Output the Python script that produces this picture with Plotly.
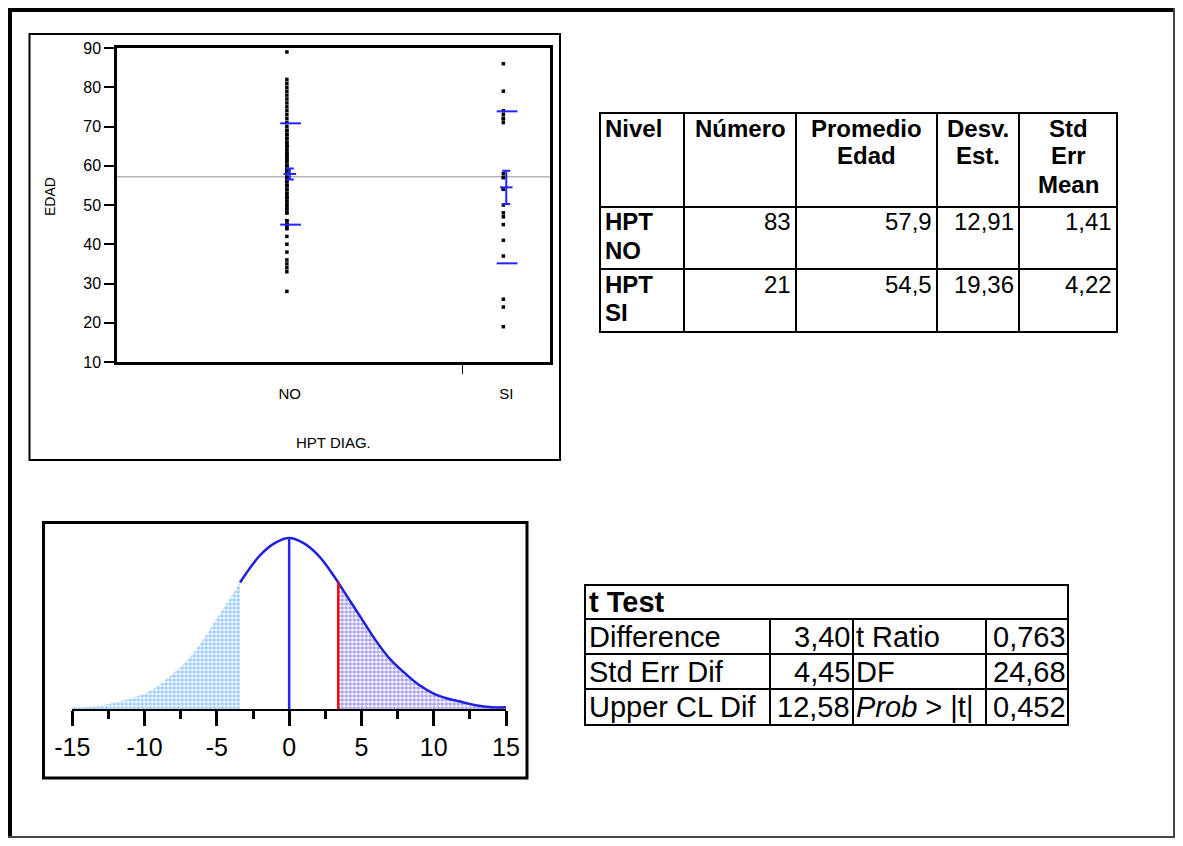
import plotly.graph_objects as go

# The page is drawn with the browser's default 8px body margin,
# so the figure covers the window from (8, 8); keep it inside the window.
WIN_W, WIN_H = 1183, 846
OFF = 8
W, H = WIN_W - 2 * OFF, WIN_H - 2 * OFF

# ---------------- data ----------------
groups = ["NO", "SI"]
counts = [83, 21]
means = [57.9, 54.5]
sds = [12.91, 19.36]
ses = [1.41, 4.22]

edad_no = [89, 82, 81, 80, 79, 78, 77, 76, 75, 74, 73, 72, 71, 70, 69, 69, 68, 68,
           67, 67, 66, 66, 65, 65, 65, 64, 64, 63, 63, 63, 62, 62, 62, 61, 61, 60,
           60, 60, 59, 59, 59, 58, 58, 57, 57, 57, 56, 56, 55, 55, 55, 54, 54, 53,
           53, 52, 52, 52, 51, 51, 50, 50, 49, 49, 48, 48, 46, 46, 45, 45, 45, 45,
           45, 44, 44, 42, 40, 38, 36, 35, 34, 33, 28]
edad_si = [86, 79, 74, 73, 72, 72, 71, 58, 57, 57, 54, 54, 50, 48, 47, 45, 41, 37,
           26, 24, 19]

y_ticks = [10, 20, 30, 40, 50, 60, 70, 80, 90]

# t distribution plot (relative density)
t_x = list(range(-15, 16))
t_y = [0.01, 0.01, 0.02, 0.04, 0.06, 0.09, 0.14, 0.21, 0.29, 0.40, 0.53, 0.66, 0.79,
       0.90, 0.97, 1.00, 0.97, 0.90, 0.79, 0.66, 0.53, 0.40, 0.29, 0.21, 0.14, 0.09,
       0.06, 0.04, 0.02, 0.01, 0.01]
t_ticks = [-15, -10, -5, 0, 5, 10, 15]
t_minor = [-12.5, -7.5, -2.5, 2.5, 7.5, 12.5]
t_diff = 3.40
t_diff_height = 0.74

# summary table
tbl_header = [["Nivel"], ["Número"], ["Promedio", "Edad"], ["Desv.", "Est."],
              ["Std", "Err", "Mean"]]
tbl_levels = [["HPT", "NO"], ["HPT", "SI"]]

# t test table
tt_title = "t Test"
tt_labels1 = ["Difference", "Std Err Dif", "Upper CL Dif"]
tt_values1 = [3.40, 4.45, 12.58]
tt_labels2 = ["t Ratio", "DF", "<i>Prob</i> &gt; |t|"]
tt_values2 = ["0,763", "24,68", "0,452"]


def es(v, d):
    return f"{v:.{d}f}".replace(".", ",")


# ---------------- helpers (window pixels -> paper) ----------------
def px(x):
    return (x - OFF) / W


def py(y):
    return 1 - (y - OFF) / H


FONT = "Liberation Sans, Arial, sans-serif"
BLUE = "#2424ff"

shapes = []
annotations = []


def seg(x0, y0, x1, y1, w=2, color="black"):
    shapes.append(dict(type="line", xref="paper", yref="paper",
                       x0=px(x0), y0=py(y0), x1=px(x1), y1=py(y1),
                       line=dict(color=color, width=w)))


def rect(x0, y0, x1, y1, w=2, color="black"):
    shapes.append(dict(type="rect", xref="paper", yref="paper",
                       x0=px(x0), y0=py(y0), x1=px(x1), y1=py(y1),
                       line=dict(color=color, width=w)))


def txt(x, y, s, anchor="left", size=15, bold=False, angle=0):
    if bold:
        s = "<b>" + s + "</b>"
    annotations.append(dict(xref="paper", yref="paper", x=px(x), y=py(y), text=s,
                            showarrow=False, xanchor=anchor, yanchor="middle",
                            textangle=angle, borderpad=0,
                            font=dict(family=FONT, size=size, color="black")))


fig = go.Figure()

# ---------------- scatter (oneway) ----------------
centers = [counts[0] / 2, counts[0] + counts[1] / 2]
boundary = counts[0]
total = counts[0] + counts[1]
grand_mean = (counts[0] * means[0] + counts[1] * means[1]) / total

fig.add_trace(go.Scatter(x=[0, total], y=[grand_mean, grand_mean], mode="lines",
                         line=dict(color="#b4b4b4", width=1.5),
                         xaxis="x", yaxis="y", hoverinfo="skip"))
for c, vals in zip(centers, [edad_no, edad_si]):
    fig.add_trace(go.Scatter(x=[c - 0.7] * len(vals), y=vals, mode="markers",
                             marker=dict(symbol="square", size=3.5, color="black"),
                             xaxis="x", yaxis="y", hoverinfo="skip"))
for c, m, s, e in zip(centers, means, sds, ses):
    fig.add_trace(go.Scatter(x=[c - 2.3, c + 2.7, None, c - 2.3, c + 2.7],
                             y=[m + s, m + s, None, m - s, m - s], mode="lines",
                             line=dict(color=BLUE, width=2),
                             xaxis="x", yaxis="y", hoverinfo="skip"))
    fig.add_trace(go.Scatter(x=[c], y=[m], mode="markers",
                             marker=dict(symbol="line-ew-open", size=9, color=BLUE,
                                         line=dict(color=BLUE, width=2)),
                             error_y=dict(type="data", array=[e], width=4,
                                          thickness=2, color=BLUE),
                             xaxis="x", yaxis="y", hoverinfo="skip"))

# ---------------- t distribution ----------------
left_x = [x for x in t_x if x <= -t_diff] + [-t_diff]
left_y = [y for x, y in zip(t_x, t_y) if x <= -t_diff] + [t_diff_height]
right_x = [t_diff] + [x for x in t_x if x >= t_diff]
right_y = [t_diff_height] + [y for x, y in zip(t_x, t_y) if x >= t_diff]
curve_x = [-t_diff] + [x for x in t_x if x > -t_diff]
curve_y = [t_diff_height] + [y for x, y in zip(t_x, t_y) if x > -t_diff]

fig.add_trace(go.Scatter(x=left_x, y=left_y, mode="lines", fill="tozeroy",
                         line=dict(width=0, shape="spline", color="#5aaaf0"),
                         fillcolor="rgba(0,0,0,0)",
                         fillpattern=dict(shape=".", size=4, solidity=0.6,
                                          fgcolor="#3a98f0", bgcolor="white"),
                         xaxis="x2", yaxis="y2", hoverinfo="skip"))
fig.add_trace(go.Scatter(x=right_x, y=right_y, mode="lines", fill="tozeroy",
                         line=dict(width=0, shape="spline", color="#6060d0"),
                         fillcolor="rgba(0,0,0,0)",
                         fillpattern=dict(shape=".", size=4, solidity=0.6,
                                          fgcolor="#4f40cc", bgcolor="white"),
                         xaxis="x2", yaxis="y2", hoverinfo="skip"))
fig.add_trace(go.Scatter(x=curve_x, y=curve_y, mode="lines",
                         line=dict(width=2.5, shape="spline", color="#2020e0"),
                         xaxis="x2", yaxis="y2", hoverinfo="skip"))
fig.add_trace(go.Scatter(x=[0, 0], y=[0, t_y[t_x.index(0)]], mode="lines",
                         line=dict(width=2.5, color=BLUE),
                         xaxis="x2", yaxis="y2", hoverinfo="skip"))
fig.add_trace(go.Scatter(x=[t_diff, t_diff], y=[-0.025, t_diff_height], mode="lines",
                         line=dict(width=2.5, color="#ff0000"),
                         xaxis="x2", yaxis="y2", hoverinfo="skip"))

# ---------------- frames ----------------
RIGHT = OFF + W - 1
BOTTOM = OFF + H - 1
seg(10, 8, 10, BOTTOM + 1, w=4)
seg(8, 10, RIGHT + 1, 10, w=4)
seg(RIGHT, 8, RIGHT, BOTTOM + 1, w=2, color="#444444")
seg(8, BOTTOM, RIGHT + 1, BOTTOM, w=2, color="#444444")
rect(29.5, 34, 560, 460, w=2)
rect(43.5, 522.5, 527, 778, w=3)

# axis titles of the oneway plot
txt(50, 197, "EDAD", anchor="center", size=14, angle=-90)
txt(333, 442, "HPT DIAG.", anchor="center", size=15)

# ---------------- summary table ----------------
T1c = [600, 684, 796, 937, 1019, 1117]
T1r = [113, 207, 269, 332]
T1F = 24
LS = 28
rect(T1c[0], T1r[0], T1c[-1], T1r[-1], w=2)
for xc in T1c[1:-1]:
    seg(xc, T1r[0], xc, T1r[-1], w=2)
for yr in T1r[1:-1]:
    seg(T1c[0], yr, T1c[-1], yr, w=2)
for j, lines in enumerate(tbl_header):
    for k, s in enumerate(lines):
        yc = T1r[0] + 15 + LS * k
        if j == 0:
            txt(T1c[0] + 4, yc, s, "left", T1F, True)
        else:
            txt((T1c[j] + T1c[j + 1]) / 2, yc, s, "center", T1F, True)
body_vals = [[str(counts[i]), es(means[i], 1), es(sds[i], 2), es(ses[i], 2)]
             for i in range(2)]
for i in range(2):
    top = T1r[i + 1]
    for k, s in enumerate(tbl_levels[i]):
        txt(T1c[0] + 4, top + 15 + LS * k, s, "left", T1F, True)
    for j, s in enumerate(body_vals[i]):
        txt(T1c[j + 2] - 4, top + 15, s, "right", T1F)

# ---------------- t test table ----------------
T2c = [585, 770, 853, 986, 1068]
T2r = [585, 619, 654, 689, 725]
T2F = 29
rect(T2c[0], T2r[0], T2c[-1], T2r[-1], w=2)
for yr in T2r[1:-1]:
    seg(T2c[0], yr, T2c[-1], yr, w=2)
for xc in T2c[1:-1]:
    seg(xc, T2r[1], xc, T2r[-1], w=2)
txt(T2c[0] + 3, (T2r[0] + T2r[1]) / 2, tt_title, "left", T2F, True)
for i in range(3):
    yc = (T2r[i + 1] + T2r[i + 2]) / 2
    txt(T2c[0] + 3, yc, tt_labels1[i], "left", T2F)
    txt(T2c[2] - 2, yc, es(tt_values1[i], 2), "right", T2F)
    txt(T2c[2] + 2, yc, tt_labels2[i], "left", T2F)
    txt(T2c[4] - 1, yc, tt_values2[i], "right", T2F)

# ---------------- layout ----------------
fig.update_layout(
    width=W, height=H, margin=dict(l=0, r=0, t=0, b=0, autoexpand=False),
    paper_bgcolor="white", plot_bgcolor="white", showlegend=False,
    font=dict(family=FONT, color="black"),
    xaxis=dict(domain=[px(117), px(550)], range=[0, total], anchor="y",
               automargin=False,
               showline=True, linewidth=2.5, linecolor="black", mirror=True,
               showgrid=False, zeroline=False, tickmode="array",
               tickvals=centers, ticktext=groups, ticks="", ticklabelstandoff=16,
               tickfont=dict(size=15, family=FONT),
               minor=dict(tickmode="array", tickvals=[boundary], ticks="outside",
                          ticklen=9, tickwidth=1, tickcolor="black"),
               fixedrange=True),
    yaxis=dict(domain=[py(362), py(48)], range=[10, 90], anchor="x",
               automargin=False,
               showline=True, linewidth=2.5, linecolor="black", mirror=True,
               showgrid=False, zeroline=False, tickmode="array", tickvals=y_ticks,
               ticks="outside", ticklen=10, tickwidth=1.5, tickcolor="black",
               tickfont=dict(size=16, family=FONT), fixedrange=True),
    xaxis2=dict(domain=[px(72.3), px(506)], range=[-15, 15], anchor="y2",
                automargin=False,
                showline=True, linewidth=2, linecolor="black", showgrid=False,
                zeroline=False, tickmode="array", tickvals=t_ticks,
                ticktext=[str(v) for v in t_ticks],
                ticks="outside", ticklen=15, tickwidth=3, tickcolor="black",
                tickfont=dict(size=25, family=FONT),
                minor=dict(tickmode="array", tickvals=t_minor, ticks="outside",
                           ticklen=8, tickwidth=3, tickcolor="black"),
                fixedrange=True),
    yaxis2=dict(domain=[py(709), py(530)], range=[0, 179 / 171], anchor="x2",
                automargin=False, visible=False, fixedrange=True),
    shapes=shapes, annotations=annotations,
)

fig.write_html("out.html")
